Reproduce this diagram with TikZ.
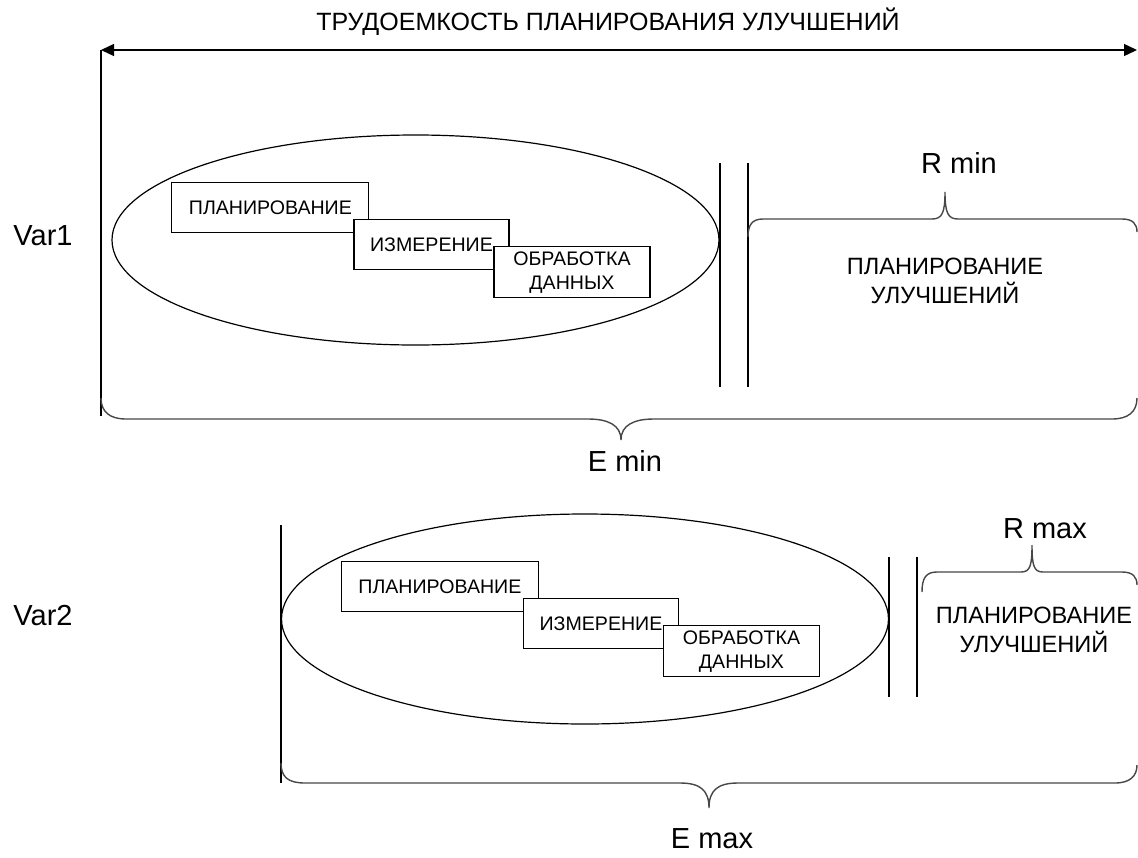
\documentclass[tikz,border=0pt]{standalone}
\usepackage{fontspec}
\setmainfont{Liberation Sans}
\usetikzlibrary{arrows.meta,shapes.geometric}
\begin{document}
\begin{tikzpicture}[x=1pt,y=-1pt,
  line/.style={draw=black,line width=1.3pt},
  bracepath/.style={draw=black!72,line width=1.4pt},
  oval/.style={ellipse,draw=black,line width=1.2pt,minimum width=607pt,minimum height=210pt,inner sep=0pt},
  stagebox/.style={rectangle,draw=black,line width=1.1pt,fill=white,inner sep=0pt,
    minimum height=50pt,font=\fontsize{19.6}{24}\selectfont},
  oneline/.style={text height=14pt,text depth=0pt},
  biglabel/.style={font=\fontsize{29}{34}\selectfont,anchor=base,inner sep=0pt},
  sidetext/.style={font=\fontsize{23.6}{29}\selectfont,align=center,inner sep=0pt},
  >={Triangle[length=13pt,width=12pt]},
]
\useasboundingbox (0,0) rectangle (1138,857);

% title and overall span
\node[font=\fontsize{25}{30}\selectfont,anchor=base,inner sep=0pt] (title) at (608,30) {ТРУДОЕМКОСТЬ ПЛАНИРОВАНИЯ УЛУЧШЕНИЙ};
\coordinate (spanL) at (101,50);
\coordinate (spanR) at (1137,50);
\coordinate (v1bot) at (101,416);
\draw[line,<->] (spanL) -- (spanR);
\draw[line] (spanL) -- (v1bot);

% ---------- variant 1 ----------
\node[biglabel] (var1) at (43,245) {Var1};
\node[oval] (e1) at (415.5,240) {};
\node[stagebox,oneline,minimum width=197pt] (p1) at (270.4,207.5) {ПЛАНИРОВАНИЕ};
\node[stagebox,oneline,minimum width=155pt] (m1) at (431.5,244.2) {ИЗМЕРЕНИЕ};
\node[stagebox,minimum width=156pt,minimum height=51pt,align=center] (o1) at (572,272.3) {ОБРАБОТКА\\ДАННЫХ};

\coordinate (g1a) at (720,163); \coordinate (g1b) at (720,387);
\coordinate (g1c) at (748,163); \coordinate (g1d) at (748,387);
\draw[line] (g1a) -- (g1b);
\draw[line] (g1c) -- (g1d);

\coordinate (rmintip) at (945,192);
\draw[bracepath] (748,237) .. controls (748,225) and (752,219) .. (763,219) -- (932,219)
  .. controls (942,219) and (945,213) .. (rmintip)
  .. controls (945,213) and (948,219) .. (958,219) -- (1122,219)
  .. controls (1133,219) and (1137,224) .. (1137,232);
\node[biglabel] (rmin) at (959,173) {R min};
\node[sidetext] (imp1) at (945,280.5) {ПЛАНИРОВАНИЕ\\УЛУЧШЕНИЙ};

\coordinate (emintip) at (621,440);
\draw[bracepath] (101,398) .. controls (101,412) and (110,419) .. (126,419) -- (588,419)
  .. controls (608,419) and (621,425) .. (emintip)
  .. controls (621,425) and (634,419) .. (654,419) -- (1112,419)
  .. controls (1128,419) and (1137,412) .. (1137,398);
\node[biglabel] (emin) at (625,471) {E min};

% ---------- variant 2 ----------
\node[biglabel] (var2) at (43,625) {Var2};
\coordinate (v2top) at (281,525);
\coordinate (v2bot) at (281,783);
\draw[line] (v2top) -- (v2bot);
\node[oval] (e2) at (585,619) {};
\node[stagebox,oneline,minimum width=197pt] (p2) at (439.9,586.5) {ПЛАНИРОВАНИЕ};
\node[stagebox,oneline,minimum width=155pt] (m2) at (601,623.2) {ИЗМЕРЕНИЕ};
\node[stagebox,minimum width=156pt,minimum height=51pt,align=center] (o2) at (741.5,651.3) {ОБРАБОТКА\\ДАННЫХ};

\coordinate (g2a) at (889,557); \coordinate (g2b) at (889,697);
\coordinate (g2c) at (917,557); \coordinate (g2d) at (917,697);
\draw[line] (g2a) -- (g2b);
\draw[line] (g2c) -- (g2d);

\coordinate (rmaxtip) at (1032,545);
\draw[bracepath] (922,592) .. controls (922,578) and (926,572) .. (937,572) -- (1021,572)
  .. controls (1030,572) and (1032,566) .. (rmaxtip)
  .. controls (1032,566) and (1034,572) .. (1043,572) -- (1122,572)
  .. controls (1133,572) and (1137,577) .. (1137,585);
\node[biglabel] (rmax) at (1045,538) {R max};
\node[sidetext] (imp2) at (1034,629.5) {ПЛАНИРОВАНИЕ\\УЛУЧШЕНИЙ};

\coordinate (emaxtip) at (709,808);
\draw[bracepath] (281,763) .. controls (281,777) and (288,783) .. (305,783) -- (680,783)
  .. controls (700,783) and (709,790) .. (emaxtip)
  .. controls (709,790) and (718,783) .. (738,783) -- (1115,783)
  .. controls (1130,783) and (1137,776) .. (1137,765);
\node[biglabel] (emax) at (712,848) {E max};
\end{tikzpicture}
\end{document}
